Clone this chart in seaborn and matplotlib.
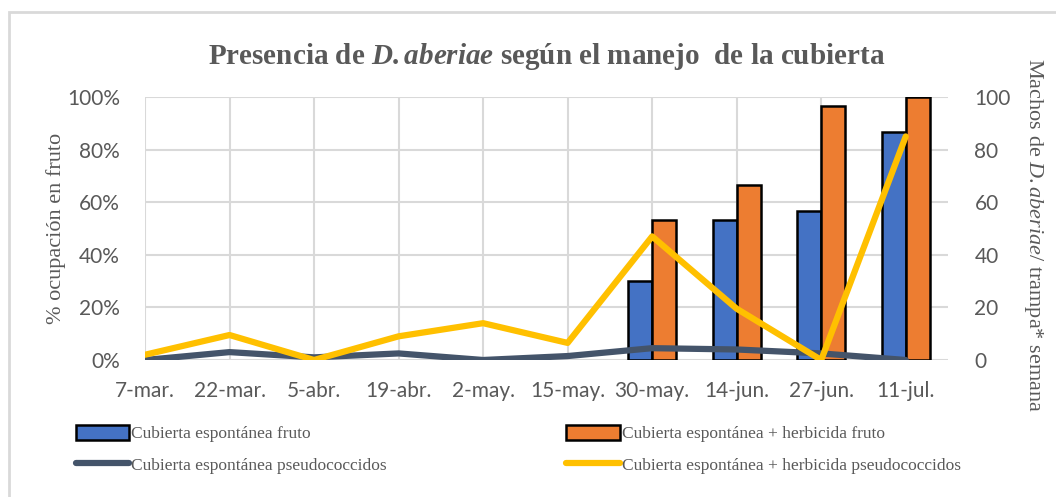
import numpy as np
import pandas as pd
import seaborn as sns
import matplotlib.pyplot as plt
from matplotlib.patches import Rectangle

sns.set_theme(style='white')
plt.rcParams['font.family'] = ['Liberation Serif', 'DejaVu Serif']
plt.rcParams['mathtext.fontset'] = 'custom'
plt.rcParams['mathtext.rm'] = 'Liberation Serif'
plt.rcParams['mathtext.it'] = 'Liberation Serif:italic'
plt.rcParams['mathtext.bf'] = 'Liberation Serif:bold'
plt.rcParams['mathtext.bfit'] = 'Liberation Serif:italic:bold'

# data
fechas = ['7-mar.', '22-mar.', '5-abr.', '19-abr.', '2-may.', '15-may.',
          '30-may.', '14-jun.', '27-jun.', '11-jul.']
fruto_esp = [np.nan, np.nan, np.nan, np.nan, np.nan, np.nan, 30.0, 53.3, 56.7, 86.7]
fruto_herb = [np.nan, np.nan, np.nan, np.nan, np.nan, np.nan, 53.3, 66.7, 96.7, 100.0]
pseudo_esp = [0, 3, 1, 2.5, 0, 1.5, 4.5, 4, 2.5, 0]
pseudo_herb = [2, 9.5, 0, 9, 14, 6.5, 47, 19.5, 0, 85]

lab_esp = 'Cubierta espontánea fruto'
lab_herb = 'Cubierta espontánea + herbicida fruto'
lab_pesp = 'Cubierta espontánea pseudococcidos'
lab_pherb = 'Cubierta espontánea + herbicida pseudococcidos'

df = pd.DataFrame({'Fecha': fechas * 2,
                   'Valor': fruto_esp + fruto_herb,
                   'Serie': [lab_esp] * len(fechas) + [lab_herb] * len(fechas)})

gris = '#595959'
grid = '#D9D9D9'

fig = plt.figure(figsize=(10.56, 4.97), dpi=100)
ax = fig.add_axes([145 / 1056, 1 - 360 / 497, (948 - 145) / 1056, (360 - 97) / 497])

sns.barplot(data=df, x='Fecha', y='Valor', hue='Serie', order=fechas,
            hue_order=[lab_esp, lab_herb], palette=['#4472C4', '#ED7D31'],
            width=0.57, edgecolor='black', linewidth=1.8, saturation=1,
            ax=ax, legend=True, zorder=2)
ax.set_xlim(0, 9.5)
ax.set_ylim(0, 100)
ax.set_yticks([0, 20, 40, 60, 80, 100])
ax.set_yticklabels([f'{v}%' for v in range(0, 101, 20)])
ax.set_xticks(range(len(fechas)))
ax.set_xticklabels(fechas)
ax.grid(True, color=grid, linewidth=1.5, zorder=0)
ax.set_axisbelow(True)
for s in ax.spines.values():
    s.set_visible(False)
ax.tick_params(length=0, labelsize=15, labelcolor=gris)
ax.tick_params(axis='x', pad=15)
ax.tick_params(axis='y', pad=18)
for t in ax.get_xticklabels() + ax.get_yticklabels():
    t.set_family(['Lato', 'DejaVu Sans'])
ax.set_xlabel('')
ax.set_ylabel('% ocupación en fruto', fontsize=16, color=gris)
ax.yaxis.set_label_coords((66 - 145) / 803, 0.5)
h_bar, l_bar = ax.get_legend_handles_labels()
ax.get_legend().remove()

ax2 = ax.twinx()
pos = np.arange(len(fechas))
sns.lineplot(x=pos, y=pseudo_esp, color='#44546A', linewidth=4.5,
             solid_capstyle='round', ax=ax2, label=lab_pesp, zorder=3)
sns.lineplot(x=pos, y=pseudo_herb, color='#FFC000', linewidth=4.5,
             solid_capstyle='round', ax=ax2, label=lab_pherb, zorder=4)
ax2.set_ylim(0, 100)
ax2.set_xlim(0, 9.5)
ax2.set_yticks([0, 20, 40, 60, 80, 100])
ax2.tick_params(length=0, labelsize=15, labelcolor=gris, pad=19)
for t in ax2.get_yticklabels():
    t.set_family(['Lato', 'DejaVu Sans'])
for s in ax2.spines.values():
    s.set_visible(False)
ax2.set_ylabel(r'Machos de $\mathit{D{.}aberiae}$/ trampa* semana', fontsize=16,
               color=gris, rotation=-90, va='center')
ax2.yaxis.set_label_coords((1033 - 145) / 803, (360 - 235) / 263)
h_line, l_line = ax2.get_legend_handles_labels()
ax2.get_legend().remove()

fig.suptitle(r'Presencia de $\mathbfit{D{.}aberiae}$ según el manejo  de la cubierta',
             x=(145 + 948) / 2 / 1056, y=1 - 41 / 497, fontsize=21,
             fontweight='bold', color=gris)

handles = [h_bar[0], h_line[0], h_bar[1], h_line[1]]
labels = [l_bar[0], l_line[0], l_bar[1], l_line[1]]
fig.legend(handles, labels, ncol=2, loc='upper left',
           bbox_to_anchor=(60 / 1056, 1 - 409 / 497), frameon=False,
           fontsize=12.5, labelcolor=gris, handlelength=3.1, handleheight=1.0,
           handletextpad=0.1, columnspacing=10.35, labelspacing=0.8)

fig.patches.append(Rectangle((9 / 1056, -0.1), 1.2, 1.1 - 12 / 497,
                             transform=fig.transFigure, fill=False,
                             edgecolor=grid, linewidth=2))

fig.savefig('out.png', dpi=100)
